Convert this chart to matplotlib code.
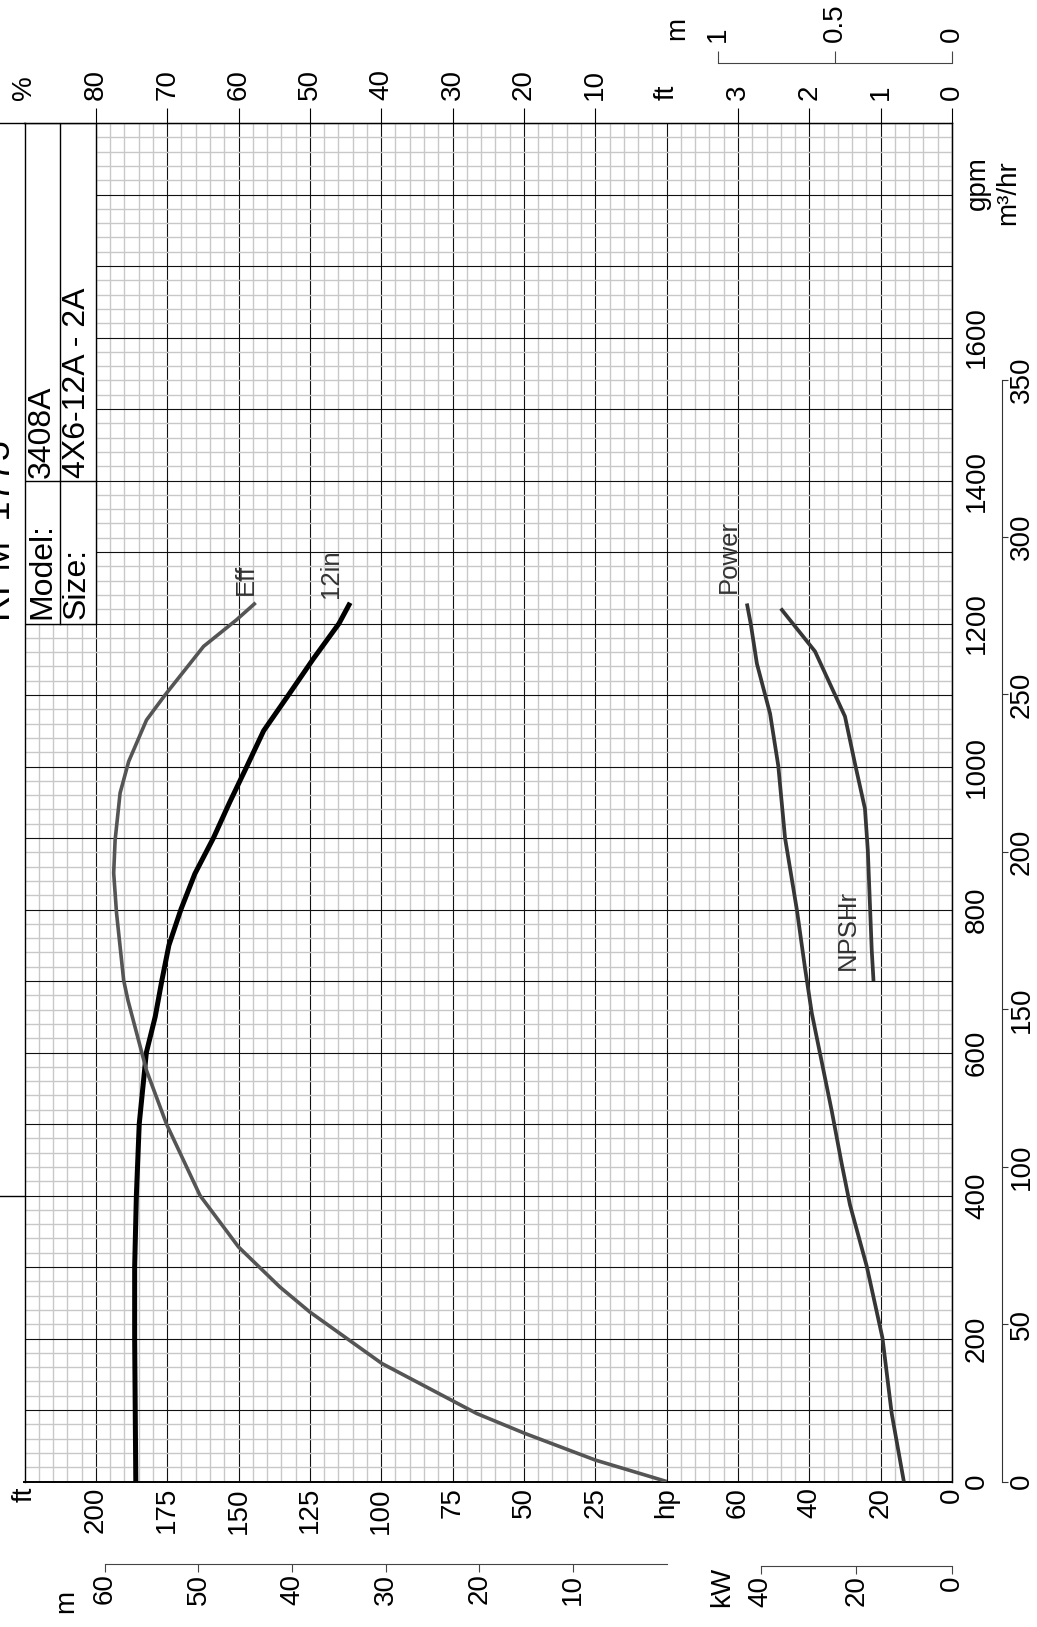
import matplotlib
matplotlib.use("Agg")
import matplotlib.pyplot as plt
from matplotlib.patches import Rectangle
import numpy as np

plt.rcParams["font.family"] = ["Liberation Sans", "DejaVu Sans"]

# ---- curve data (flow in gpm) ----
head_gpm = [0, 100, 200, 300, 400, 500, 600, 650, 700, 750, 800, 850, 900, 950,
            1000, 1050, 1100, 1150, 1200, 1229]
head_ft = [186, 186.2, 186.4, 186.4, 185.8, 184.8, 182.3, 179.2, 176.9, 174.4,
           170.2, 165.3, 158.8, 153.1, 147.1, 141.2, 132.5, 123.9, 114.8, 110.9]

eff_gpm = [0, 30, 67, 95, 165, 237, 272, 328, 400, 500, 575, 673, 701, 795, 851,
           897, 963, 1007, 1065, 1100, 1168, 1205, 1229]
eff_pct = [0, 10, 19.8, 26.6, 39.9, 50, 54.2, 60, 65.4, 70.1, 72.9, 75.5, 76.1,
           77.1, 77.5, 77.3, 76.6, 75.4, 72.9, 70.3, 64.9, 60.3, 57.6]

power_gpm = [0, 95, 201, 301, 387, 444, 518, 655, 718, 800, 900, 1001, 1074,
             1144, 1199, 1228]
power_hp = [13.5, 16.9, 19.5, 23.9, 28.6, 30.9, 33.7, 39.3, 41.2, 43.5, 46.8,
            48.7, 51.0, 54.7, 56.4, 57.5]

npsh_gpm = [700, 743, 883, 941, 1004, 1070, 1161, 1221]
npsh_ft = [1.10, 1.125, 1.18, 1.22, 1.36, 1.50, 1.92, 2.40]

# ---- axis labels ----
gpm_ticks = [0, 200, 400, 600, 800, 1000, 1200, 1400, 1600]
m3h_ticks = [0, 50, 100, 150, 200, 250, 300, 350]
top_labels = ["0", "1", "2", "3", "ft", "10", "20", "30", "40", "50", "60", "70", "80", "%"]
bottom_labels = ["0", "20", "40", "60", "hp", "25", "50", "75", "100", "125", "150",
                 "175", "200", "ft"]
head_m_ticks = [10, 20, 30, 40, 50, 60]
kw_ticks = [0, 20, 40]
npsh_m_ticks = [0, 0.5, 1]

NDIV = 13          # major divisions across the chart
GPM_MAX = 1900
FT_PER_M = 3.28084
HP_PER_KW = 1.34102
GPM_PER_M3H = 4.40287

W, H = 1037, 1627
L, R, T, B = 24.5, 952.0, 123.0, 1481.5


def box(x0, y0, x1, y1):
    return [x0 / W, 1 - y1 / H, (x1 - x0) / W, (y1 - y0) / H]


def div_limits(zero_div, per_div):
    return ((NDIV - zero_div) * per_div, (0 - zero_div) * per_div)


def ptext(x, y, s, **kw):
    kw.setdefault("rotation", 90)
    fig.text(x / W, 1 - y / H, s, **kw)


fig = plt.figure(figsize=(W / 100, H / 100), dpi=100)
ax = fig.add_axes(box(L, T, R, B))

# one twin per quantity, scaled onto the shared grid
def twin(zero_div, per_div):
    t = ax.twiny()
    t.set_xlim(*div_limits(zero_div, per_div))
    t.axis("off")
    return t

ax_head = twin(4, 25)
ax_eff = twin(4, 10)
ax_pow = twin(0, 20)
ax_npsh = twin(0, 1)

ax.set_xlim(NDIV, 0)
ax.set_ylim(0, GPM_MAX)
ax.set_xticks(range(NDIV + 1))
ax.set_xticklabels(bottom_labels)
ax.set_xticks(np.arange(0, NDIV, 0.2), minor=True)
ax.set_yticks(range(0, GPM_MAX + 1, 100))
ax.set_yticks(range(0, GPM_MAX, 20), minor=True)
ax.set_axisbelow(True)
ax.grid(which="minor", color="#c8c8c8", lw=1.0)
ax.grid(which="major", color="#111111", lw=0.8)
ax.tick_params(which="both", length=0, labelleft=False, left=False, top=False, right=False)
ax.tick_params(axis="x", labelsize=20, labelrotation=90, pad=4)
for s in ax.spines.values():
    s.set_linewidth(1.0)
ax.spines["bottom"].set_linewidth(1.4)

# top labels (% and NPSH ft)
sec_top = ax.secondary_xaxis("top")
sec_top.set_ticks(range(NDIV + 1), labels=top_labels)
sec_top.tick_params(length=10.8, width=0.8, pad=5.5, labelsize=20, labelrotation=90)
for i in (4, 13):
    tk = sec_top.xaxis.get_major_ticks()[i]
    tk.tick1line.set_visible(False)
    tk.tick2line.set_visible(False)

# right gpm labels
sec_r = ax.secondary_yaxis("right")
sec_r.set_ticks(gpm_ticks)
sec_r.tick_params(length=0, pad=18, labelsize=20, labelrotation=90)
plt.setp(sec_r.get_yticklabels(), ha="center", va="center")

# m3/hr axis
ax_m3 = fig.add_axes(box(1002, T, 1002.1, B))
ax_m3.set_ylim(0, GPM_MAX / GPM_PER_M3H)
for k in ("left", "top", "bottom"):
    ax_m3.spines[k].set_visible(False)
ax_m3.spines["right"].set_bounds(0, 350)
ax_m3.spines["right"].set_color("#333333")
ax_m3.patch.set_visible(False)
ax_m3.set_xticks([])
ax_m3.yaxis.tick_right()
ax_m3.set_yticks(m3h_ticks)
ax_m3.tick_params(axis="y", length=4.5, width=0.8, color="#333333", pad=9.5,
                  labelsize=20, labelrotation=90)
plt.setp(ax_m3.get_yticklabels(), ha="center", va="center")

# head in metres (bottom)
ax_hm = fig.add_axes(box(L, 1564, R, 1564.1))
ax_hm.set_xlim(*div_limits(4, 25 / FT_PER_M))
ax_hm.patch.set_visible(False)
for k in ("left", "top", "right"):
    ax_hm.spines[k].set_visible(False)
ax_hm.spines["bottom"].set_bounds(0, 60)
ax_hm.spines["bottom"].set_color("#444444")
ax_hm.set_yticks([])
ax_hm.set_xticks(head_m_ticks)
ax_hm.tick_params(axis="x", length=5.8, width=0.8, color="#444444", pad=1,
                  labelsize=20, labelrotation=90)

# power in kW (bottom)
ax_kw = fig.add_axes(box(L, 1566, R, 1566.1))
ax_kw.set_xlim(*div_limits(0, 20 / HP_PER_KW))
ax_kw.patch.set_visible(False)
for k in ("left", "top", "right"):
    ax_kw.spines[k].set_visible(False)
ax_kw.spines["bottom"].set_bounds(0, 40)
ax_kw.spines["bottom"].set_color("#444444")
ax_kw.set_yticks([])
ax_kw.set_xticks(kw_ticks)
ax_kw.tick_params(axis="x", length=5.8, width=0.8, color="#444444", pad=1,
                  labelsize=20, labelrotation=90)

# NPSH in metres (top)
ax_nm = fig.add_axes(box(L, 63, R, 63.1))
ax_nm.set_xlim(*div_limits(0, 1 / FT_PER_M))
ax_nm.patch.set_visible(False)
for k in ("left", "bottom", "right"):
    ax_nm.spines[k].set_visible(False)
ax_nm.spines["top"].set_bounds(0, 1)
ax_nm.spines["top"].set_color("#444444")
ax_nm.set_yticks([])
ax_nm.xaxis.tick_top()
ax_nm.set_xticks(npsh_m_ticks, labels=["0", "0.5", "1"])
ax_nm.tick_params(axis="x", length=8.3, width=0.8, color="#444444", pad=7,
                  labelsize=20, labelrotation=90)

# title block (white box over the grid)
ax.add_patch(Rectangle((12, 1200), 1, GPM_MAX - 1200, facecolor="white",
                       edgecolor="black", lw=1.0, zorder=1.5))
ax.plot([12.5, 12.5], [1200, GPM_MAX], color="black", lw=1.0, zorder=1.6)
ax.plot([12, 13], [1400, 1400], color="black", lw=1.0, zorder=1.6)
ax.plot([13, 13.35], [GPM_MAX, GPM_MAX], color="black", lw=1.0, clip_on=False)
ax.plot([13, 13.35], [400, 400], color="black", lw=1.0, clip_on=False)

# curves
ax_eff.plot(eff_pct, eff_gpm, color="#555555", lw=2.6, solid_capstyle="butt")
ax_head.plot(head_ft, head_gpm, color="black", lw=3.6, solid_capstyle="butt")
ax_pow.plot(power_hp, power_gpm, color="#363636", lw=2.7, solid_capstyle="butt")
ax_npsh.plot(npsh_ft, npsh_gpm, color="#363636", lw=2.7, solid_capstyle="butt")

lab_kw = dict(rotation=90, ha="center", va="bottom", fontsize=18.5, color="#333333")
ax.text(9.9, 1240, "Eff", **lab_kw)
ax.text(8.70, 1236, "12in", **lab_kw)
ax.text(3.125, 1243, "Power", **lab_kw)
ax.text(1.455, 715, "NPSHr", **lab_kw)

# title block text
ptext(1, 621, "RPM  1775", fontsize=26, ha="center", va="bottom")
ptext(42, 619, "Model:", fontsize=23, ha="center", va="bottom")
ptext(42, 478, "3408A", fontsize=23, ha="center", va="bottom")
ptext(77, 619, "Size:", fontsize=23, ha="center", va="bottom")
ptext(77, 478, "4X6-12A - 2A", fontsize=23, ha="center", va="bottom")

# unit labels
ptext(66, 1601, "m", fontsize=20, ha="center", va="center")
ptext(722, 1587, "kW", fontsize=20, ha="center", va="center")
ptext(677, 28, "m", fontsize=20, ha="center", va="center")
ptext(978, 183, "gpm", fontsize=20, ha="center", va="center")
ptext(1008, 193, "m³/hr", fontsize=20, ha="center", va="center")

fig.savefig("out.png", dpi=100)
